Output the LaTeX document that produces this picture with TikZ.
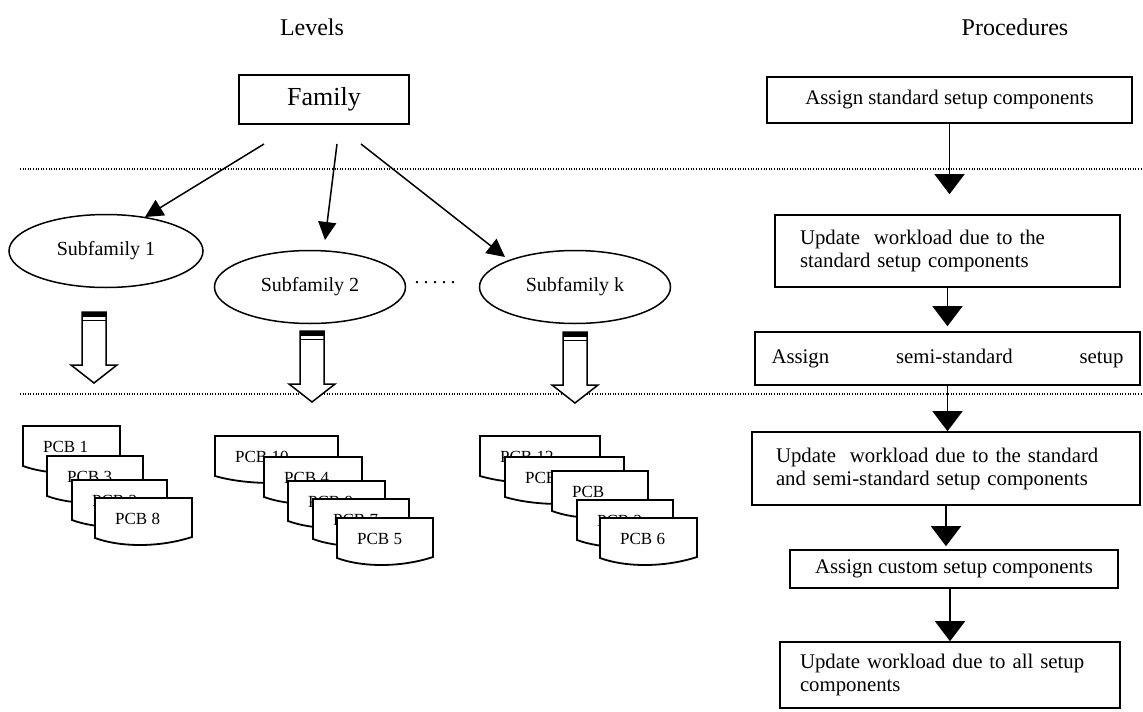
\documentclass[tikz,border=0pt]{standalone}
\usepackage{fontspec}
\setmainfont{Liberation Serif}
\usetikzlibrary{arrows.meta,shapes.geometric}

% one stacked PCB sheet: name, left x, top y, width, label
\newcommand\pcbsheet[5]{%
  \draw[sheetline] (#2,#3+40) -- (#2,#3) -- (#2+#4,#3) -- (#2+#4,#3+39)
    .. controls (#2+0.65*#4,#3+50) and (#2+0.25*#4,#3+49) .. (#2,#3+40) -- cycle;
  \node[pcbtext] (#1) at (#2+20,#3+21) {#5};
}

\tikzset{
  headtext/.style={font=\fontsize{24}{28}\selectfont},
  levelbox/.style={draw, line width=1.6pt, inner sep=0pt, font=\fontsize{26}{30}\selectfont},
  subfam/.style={ellipse, draw, line width=1.5pt, inner sep=0pt, font=\fontsize{20}{24}\selectfont},
  famarrow/.style={line width=1.5pt, -{Triangle[length=18pt,width=18pt]}},
  sheetline/.style={line width=1.8pt, fill=white, line join=miter},
  pcbtext/.style={anchor=west, inner sep=0pt, font=\fontsize{17}{20}\selectfont},
  procbox/.style={draw, line width=1.6pt, inner sep=0pt, font=\fontsize{20.8}{23}\selectfont},
  parrow/.style={line width=1.5pt, -{Triangle[length=20pt,width=30pt]}},
  dotline/.style={line width=1.2pt, dash pattern=on 1pt off 1.6pt},
  hollowdown/.pic={
    \draw[line width=1.5pt, fill=white] (-12,0) -- (-12,53) -- (-23,53) -- (0,71)
      -- (23,53) -- (12,53) -- (12,0) -- cycle;
    \fill (-12,0) rectangle (12,5);
    \draw[line width=1.2pt] (-12,8.5) -- (12,8.5);
  }
}

\begin{document}
\begin{tikzpicture}[x=1pt,y=-1pt]
\useasboundingbox (0,0) rectangle (1143,712);
\fill[white] (0,0) rectangle (1143,712);

% column headings
\node[headtext] (levels) at (312,27) {Levels};
\node[headtext] (procs) at (1015,27) {Procedures};

% level separators
\draw[dotline] (20,169) -- (1143,169);
\draw[dotline] (20,394) -- (1143,394);

% family and subfamilies
\node[levelbox, minimum width=170pt, minimum height=49pt] (family) at (324,99.5) {Family};
\node[subfam, minimum width=194pt, minimum height=73pt] (sub1) at (106,251) {Subfamily 1};
\node[subfam, minimum width=191pt, minimum height=73pt] (sub2) at (310,287) {Subfamily 2};
\node[subfam, minimum width=191pt, minimum height=73pt] (subk) at (575,287) {Subfamily k};
\node[inner sep=0pt, font=\fontsize{20}{24}\selectfont] (more) at (435,283)
  {.\hspace{4pt}.\hspace{4pt}.\hspace{4pt}.\hspace{4pt}.};

\coordinate (fa1) at (264,144);
\coordinate (fa2) at (337,144);
\coordinate (fa3) at (361,144);
\coordinate (ta1) at (145,217);
\coordinate (ta2) at (325,240);
\coordinate (ta3) at (505,257);
\draw[famarrow] (fa1) -- (ta1);
\draw[famarrow] (fa2) -- (ta2);
\draw[famarrow] (fa3) -- (ta3);

% assignment of boards to each subfamily
\pic (h1) at (94,312) {hollowdown};
\pic (h2) at (312,331) {hollowdown};
\pic (hk) at (575,332) {hollowdown};

% boards of subfamily 1
\pcbsheet{a1}{23}{426}{97}{PCB 1}
\pcbsheet{a2}{47}{456}{96}{PCB 3}
\pcbsheet{a3}{72}{480}{95}{PCB 2}
\pcbsheet{a4}{95}{498}{97}{PCB 8}

% boards of subfamily 2
\pcbsheet{b1}{215}{436}{123}{PCB 10}
\pcbsheet{b2}{264}{457}{98}{PCB 4}
\pcbsheet{b3}{288}{481}{97}{PCB 9}
\pcbsheet{b4}{313}{499}{96}{PCB 7}
\pcbsheet{b5}{337}{518}{96}{PCB 5}

% boards of subfamily k
\pcbsheet{c1}{480}{436}{120}{PCB 12}
\pcbsheet{c2}{505}{457}{119}{PCB 11}
\pcbsheet{c3}{552}{471}{96}{PCB}
\pcbsheet{c4}{577}{500}{96}{PCB 2}
\pcbsheet{c5}{600}{518}{97}{PCB 6}

% procedure steps
\node[procbox, minimum width=365pt, minimum height=46pt] (p1) at (949.5,100)
  {Assign standard setup components};
\node[procbox, minimum width=345pt, minimum height=72pt, text width=295pt, align=left]
  (p2) at (947.5,251) {Update\ \ workload due to the\\standard setup components};
\node[procbox, minimum width=385pt, minimum height=53pt, text width=352pt]
  (p3) at (947.5,358.5) {Assign\hfill semi-standard\hfill setup};
\node[procbox, minimum width=388pt, minimum height=73pt, text width=340pt, align=left]
  (p4) at (946,468.5) {Update\ \ workload due to the standard\\and semi-standard setup components};
\node[procbox, minimum width=328pt, minimum height=38pt] (p5) at (954,569)
  {Assign custom setup components};
\node[procbox, minimum width=340pt, minimum height=66pt, text width=300pt, align=left]
  (p6) at (950,675) {Update workload due to all setup\\components};

\draw[parrow, shorten >=20pt] (p1.south) -- (p1.south |- p2.north);
\draw[parrow, shorten >=5pt] (p2.south) -- (p2.south |- p3.north);
\draw[parrow] (p3.south) -- (p3.south |- p4.north);
\draw[parrow, shorten >=3pt] (p4.south) -- (p4.south |- p5.north);
\draw[parrow] (p5.south -| p6.north) -- (p6.north);
\end{tikzpicture}
\end{document}
